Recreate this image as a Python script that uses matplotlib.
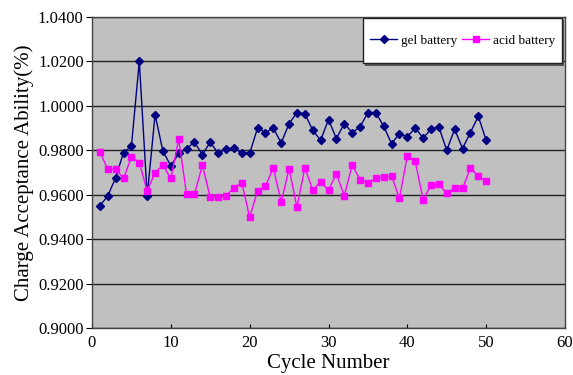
import numpy as np
import matplotlib
matplotlib.use("Agg")
from matplotlib import pyplot as plt
from matplotlib.patches import Rectangle

# cycle numbers and measured charge acceptance
cycles = np.arange(1, 51)
gel = [0.9550, 0.9595, 0.9676, 0.9790, 0.9818, 1.0200, 0.9595, 0.9960, 0.9796, 0.9730,
       0.9786, 0.9808, 0.9837, 0.9780, 0.9837, 0.9786, 0.9808, 0.9810, 0.9788, 0.9786,
       0.9900, 0.9880, 0.9900, 0.9833, 0.9920, 0.9970, 0.9965, 0.9890, 0.9845, 0.9938,
       0.9853, 0.9920, 0.9880, 0.9905, 0.9970, 0.9970, 0.9908, 0.9830, 0.9875, 0.9862,
       0.9900, 0.9856, 0.9894, 0.9905, 0.9800, 0.9895, 0.9808, 0.9880, 0.9953, 0.9845]
acid = [0.9792, 0.9715, 0.9715, 0.9673, 0.9770, 0.9745, 0.9616, 0.9700, 0.9733, 0.9673,
        0.9850, 0.9602, 0.9602, 0.9733, 0.9588, 0.9588, 0.9595, 0.9631, 0.9654, 0.9498,
        0.9618, 0.9638, 0.9722, 0.9565, 0.9718, 0.9543, 0.9722, 0.9620, 0.9658, 0.9620,
        0.9695, 0.9595, 0.9733, 0.9668, 0.9654, 0.9673, 0.9678, 0.9685, 0.9583, 0.9775,
        0.9750, 0.9578, 0.9643, 0.9647, 0.9606, 0.9631, 0.9628, 0.9720, 0.9685, 0.9660]

plt.rcParams['font.family'] = ['Liberation Serif', 'DejaVu Serif']

fig = plt.figure(figsize=(5.73, 3.75), dpi=100)
ax = fig.add_axes([92/573, 1 - 328/375, (565 - 92)/573, (328 - 17)/375])
ax.set_facecolor('#c0c0c0')

ax.plot(cycles, gel, color='#000080', lw=1.0, marker='D', ms=3.8,
        label='gel battery')
ax.plot(cycles, acid, color='#ff00ff', lw=1.0, marker='s', ms=4.2,
        label='acid battery')

ax.set_xlim(0, 60)
ax.set_ylim(0.90, 1.04)
ax.set_xticks(np.arange(0, 61, 10))
ax.set_yticks(np.arange(0.90, 1.0401, 0.02))
ax.set_yticklabels(['%.4f' % v for v in np.arange(0.90, 1.0401, 0.02)])
ax.yaxis.grid(True, color='#222222', lw=1.0)
ax.set_axisbelow(True)
for s in ax.spines.values():
    s.set_color('#444444')
    s.set_linewidth(1.0)
ax.tick_params(axis='x', direction='in', length=3, labelsize=12, pad=5)
ax.tick_params(axis='y', direction='out', length=4, labelsize=12, pad=2)

ax.set_xlabel('Cycle Number', fontsize=15, labelpad=2)
ax.set_ylabel('Charge Acceptance Ability(%)', fontsize=15, labelpad=3)

# legend box drawn by hand, with a small drop shadow
x0, x1, y0, y1 = 0.573, 0.9937, 0.852, 0.997
ax.add_patch(Rectangle((x0 + 0.005, y0 - 0.008), x1 - x0, y1 - y0,
                       transform=ax.transAxes, facecolor='#555555',
                       edgecolor='none', zorder=5, clip_on=False))
ax.add_patch(Rectangle((x0, y0), x1 - x0, y1 - y0, transform=ax.transAxes,
                       facecolor='white', edgecolor='#222222', lw=1.0,
                       zorder=6, clip_on=False))
leg = ax.legend(loc='center', ncol=2, fontsize=9.5, frameon=False,
                handlelength=2.05, handletextpad=0.25, columnspacing=0.4,
                bbox_to_anchor=((x0 + x1) / 2, (y0 + y1) / 2))
leg.set_zorder(7)

fig.savefig('out.png', dpi=100)
